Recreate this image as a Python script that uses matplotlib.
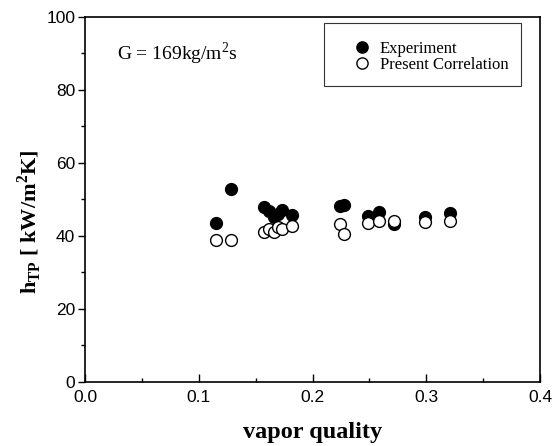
import numpy as np
import matplotlib
matplotlib.use("Agg")
import matplotlib.pyplot as plt
from matplotlib.ticker import MultipleLocator

plt.rcParams['mathtext.fontset'] = 'custom'
plt.rcParams['mathtext.rm'] = 'Liberation Serif'
plt.rcParams['mathtext.bf'] = 'Liberation Serif:bold'

# vapor quality
quality = [0.115, 0.128, 0.157, 0.162, 0.166, 0.170, 0.173, 0.182,
           0.224, 0.228, 0.249, 0.258, 0.272, 0.299, 0.321]
# measured h_TP [kW/m2K]
h_exp = [43.5, 52.8, 48.0, 46.8, 45.2, 46.0, 47.0, 45.8,
         48.2, 48.5, 45.5, 46.5, 43.3, 45.2, 46.3]
# correlation h_TP [kW/m2K]
h_corr = [39.0, 39.0, 41.2, 42.0, 41.2, 42.5, 41.8, 42.8,
          43.2, 40.5, 43.5, 44.0, 44.0, 43.8, 44.0]

fig = plt.figure(figsize=(5.53, 4.46), dpi=100)
ax = fig.add_axes([0.1537, 0.1435, 0.823, 0.8185])

ax.plot(quality, h_exp, 'o', color='black', markersize=8.5, label='Experiment')
ax.plot(quality, h_corr, 'o', markerfacecolor='white', markeredgecolor='black',
        markeredgewidth=1.0, markersize=8.5, label='Present Correlation')

ax.set_xlim(0.0, 0.4)
ax.set_ylim(0, 100)
ax.xaxis.set_minor_locator(MultipleLocator(0.05))
ax.yaxis.set_major_locator(MultipleLocator(20))
ax.yaxis.set_minor_locator(MultipleLocator(10))
ax.set_xticks([0.0, 0.1, 0.2, 0.3, 0.4])
ax.set_xticklabels(['0.0', '0.1', '0.2', '0.3', '0.4'])

ax.tick_params(axis='x', which='major', direction='in', length=6, width=1,
               labelsize=12.5, pad=6)
ax.tick_params(axis='x', which='minor', direction='in', length=3, width=1)
ax.tick_params(axis='y', which='major', direction='out', length=5, width=1,
               labelsize=12.5, pad=2)
ax.tick_params(axis='y', which='minor', direction='out', length=3, width=1)
for lab in ax.get_xticklabels() + ax.get_yticklabels():
    lab.set_family('Liberation Sans')
for sp in ax.spines.values():
    sp.set_linewidth(1.2)

ax.set_xlabel('vapor quality', family='Liberation Serif', fontweight='bold',
              fontsize=17.5, labelpad=12)
ax.set_ylabel(r'h$_{\mathbf{TP}}$ [ kW/m$^{\mathbf{2}}$K]', family='Liberation Serif',
              fontweight='bold', fontsize=16)
ax.yaxis.set_label_coords(-0.09, 0.44)

ax.text(0.028, 88.2, r'G = 169kg/m$^{2}$s', family='Liberation Serif', fontsize=14)

leg = ax.legend(loc='upper right', bbox_to_anchor=(0.958, 0.984), borderaxespad=0,
                prop={'family': 'Liberation Serif', 'size': 12},
                title=' ', title_fontsize=5,
                frameon=True, fancybox=False, edgecolor='black',
                borderpad=0.75, handletextpad=-0.5, labelspacing=0.0,
                handlelength=3.1, markerscale=0.95)
leg.get_frame().set_linewidth(0.8)

fig.savefig('out.png', dpi=100)
